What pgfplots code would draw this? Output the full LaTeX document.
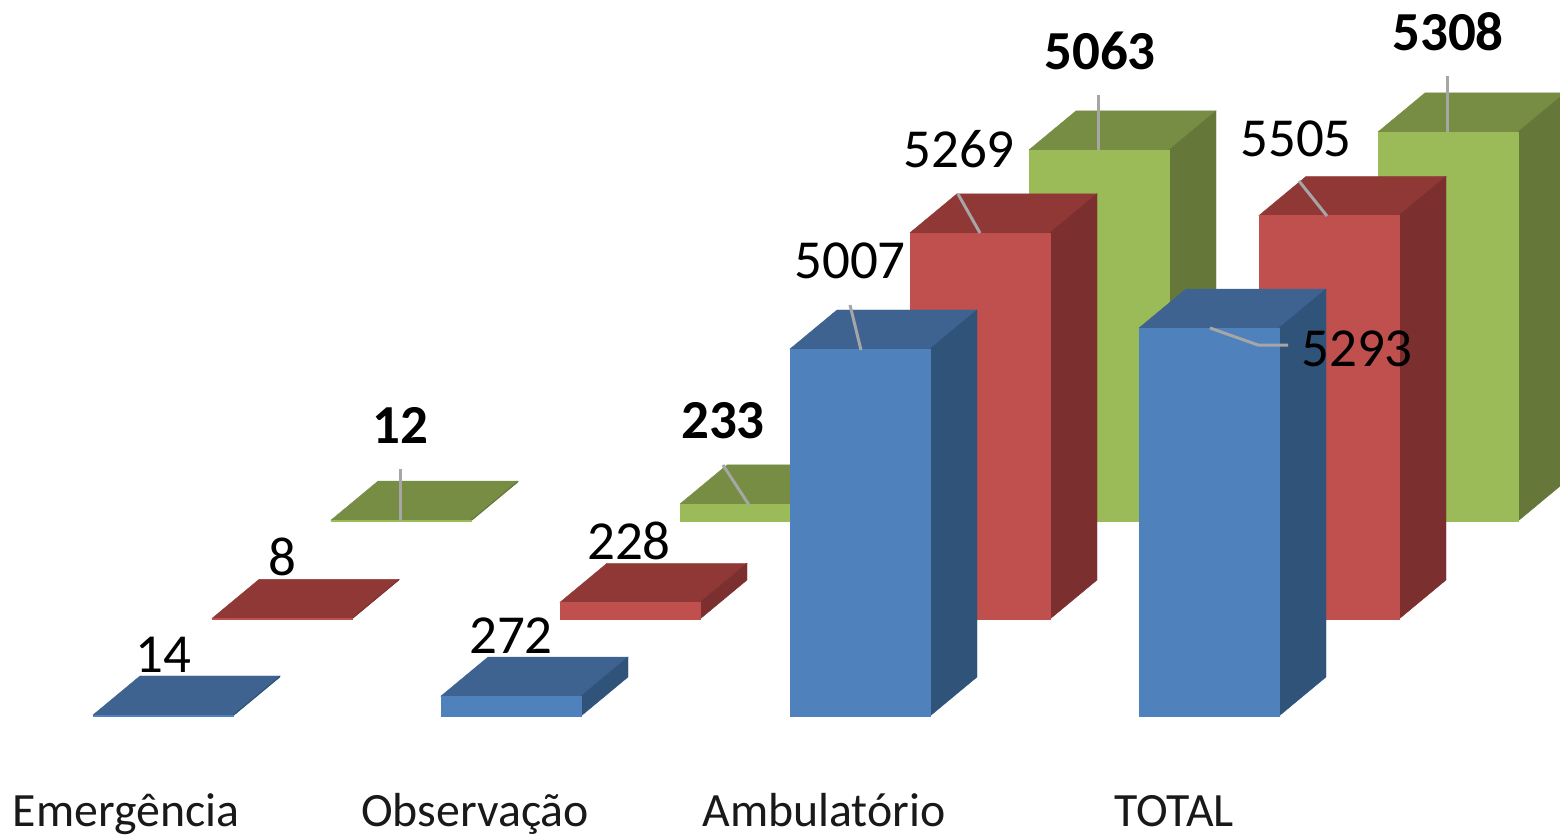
\documentclass[border=0pt]{standalone}
\usepackage{fontspec}
\setmainfont{Carlito}
\usepackage{pgfplots}
\usepackage{pgfplotstable}
\pgfplotsset{compat=1.18}
\definecolor{bF}{HTML}{4F81BD}\definecolor{bT}{HTML}{3E6391}\definecolor{bS}{HTML}{30537A}
\definecolor{rF}{HTML}{C0504D}\definecolor{rT}{HTML}{8F3836}\definecolor{rS}{HTML}{7B2F2E}
\definecolor{gF}{HTML}{9BBB59}\definecolor{gT}{HTML}{778D43}\definecolor{gS}{HTML}{65783A}
\definecolor{leader}{HTML}{A6A6A6}
% x = left edge of the front face (px), value = the chart's number
\pgfplotstableread{
x value
331 12
680 233
1029 5063
1378 5308
}\greenT
\pgfplotstableread{
x value
212 8
560 228
910 5269
1259 5505
}\redT
\pgfplotstableread{
x value
93 14
441 272
790 5007
1139 5293
}\blueT
\newcommand{\series}[5]{% table, base y, front, top, side
 \pgfplotsinvokeforeach{0,1,2,3}{%
  \pgfplotstablegetelem{##1}{x}\of{#1}\edef\xa{\pgfplotsretval}%
  \pgfplotstablegetelem{##1}{value}\of{#1}\edef\va{\pgfplotsretval}%
  \pgfmathsetmacro\xb{\xa+140}%
  \pgfmathsetmacro\xc{\xa+47}%
  \pgfmathsetmacro\xd{\xa+187}%
  \pgfmathsetmacro\yt{#2-0.0733*\va}%
  \pgfmathsetmacro\ytb{\yt-39}%
  \pgfmathsetmacro\yb{#2-39}%
  \addplot[draw=#4,line width=0.2pt,fill=#4,no markers,forget plot] coordinates {(\xa,\yt)(\xb,\yt)(\xd,\ytb)(\xc,\ytb)} --cycle;
  \addplot[draw=#5,line width=0.2pt,fill=#5,no markers,forget plot] coordinates {(\xb,#2)(\xd,\yb)(\xd,\ytb)(\xb,\yt)} --cycle;
  \addplot[draw=#3,line width=0.2pt,fill=#3,no markers,forget plot] coordinates {(\xa,#2)(\xb,#2)(\xb,\yt)(\xa,\yt)} --cycle;
 }%
}
\newcommand{\lbl}[3]{\node[anchor=base,inner sep=0pt,font=\fontsize{27.5}{30}\selectfont] at (axis cs:#1,#2) {#3};}
\newcommand{\cat}[3]{\node[anchor=base,inner sep=0pt,font=\fontsize{23.9}{26}\selectfont,color=black!90] at (axis cs:#1,#2) {#3};}
\begin{document}
\begin{tikzpicture}
\path[use as bounding box] (0,0) rectangle (780pt,417.5pt);
\begin{axis}[
  at={(0,0)},anchor=south west,
  scale only axis,width=780pt,height=417.5pt,
  xmin=0,xmax=1560,ymin=0,ymax=835,y dir=reverse,
  axis lines=none,clip=false,
  leader/.style={draw=leader,line width=1.5pt,no markers,forget plot},
]
\series{\greenT}{521}{gF}{gT}{gS}
\series{\redT}{619}{rF}{rT}{rS}
\series{\blueT}{716}{bF}{bT}{bS}
\addplot[leader] coordinates {(400,469)(400,521)};
\addplot[leader] coordinates {(723,465)(749,505)};
\addplot[leader] coordinates {(850,305)(861,350)};
\addplot[leader] coordinates {(958,194)(980,233)};
\addplot[leader] coordinates {(1098,95)(1098,150)};
\addplot[leader] coordinates {(1299,181)(1327,216)};
\addplot[leader] coordinates {(1210,328)(1258,345)(1288,345)};
\addplot[leader] coordinates {(1447,76)(1447,132)};
\lbl{163}{672}{14}
\lbl{282}{575}{8}
\lbl{400}{443}{\bfseries 12}
\lbl{511}{653}{272}
\lbl{629}{559}{228}
\lbl{723}{438}{\bfseries 233}
\lbl{850}{278}{5007}
\lbl{959}{167}{5269}
\lbl{1100}{69}{\bfseries 5063}
\lbl{1296}{156}{5505}
\lbl{1357}{366}{5293}
\lbl{1448}{50}{\bfseries 5308}
\cat{126}{826}{Emergência}
\cat{475}{826}{Observação}
\cat{824}{826}{Ambulatório}
\cat{1174}{826}{TOTAL}
\end{axis}
\end{tikzpicture}
\end{document}
